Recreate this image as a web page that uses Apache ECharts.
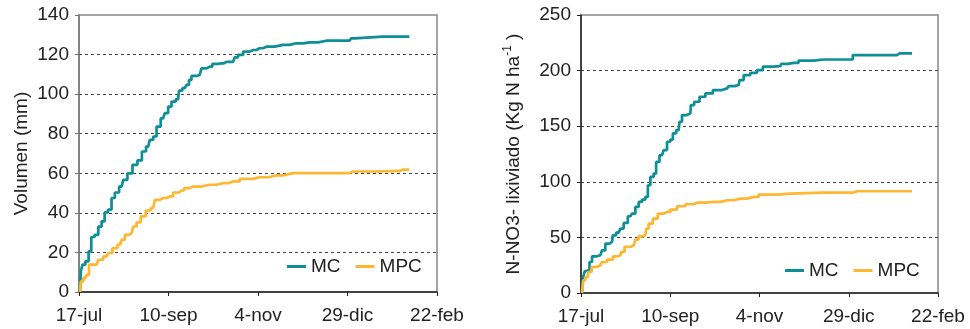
<!DOCTYPE html>
<html>
<head>
    <meta charset="utf-8">
    <title>Volumen y N-NO3 lixiviado</title>
    <script src="https://cdn.jsdelivr.net/npm/echarts@6/dist/echarts.min.js"></script>
    <style>
        html, body { margin: 0; padding: 0; background: #fff; }
        #chart { width: 970px; height: 329px; }
    </style>
</head>
<body>
    <div id="chart"></div>
    <script>
        // eje x: dias desde el 17-jul
        var xLabels = ['17-jul', '10-sep', '4-nov', '29-dic', '22-feb'];

        // volumen acumulado (mm) [dia, valor]
        var volMC = [[0.6,0],[1.6,10.4],[2.7,13.8],[5.1,15.5],[6.7,20.5],[8.4,27.8],[10.8,28.9],[12.9,33],
            [14.9,35.7],[16.6,40.2],[19,41.6],[21,47.5],[23.1,50.3],[26.2,53.3],[28.2,56.7],[31.3,60],
            [34.4,64.3],[37.4,66.5],[39.9,71],[42.5,73.5],[44.6,76.9],[46.6,78.6],[48.7,83.6],[51.7,87.8],
            [53.8,90.4],[55.8,93.7],[57.9,96.2],[60.9,97.4],[62,101.8],[65,103],[67.1,104.7],[68.1,107.2],
            [70.1,109.2],[74.2,109.7],[76.3,113],[80.4,113.9],[83.4,115.3],[87.5,115.6],[90.6,116.3],
            [94.7,116.3],[96.7,118.6],[98.8,119.8],[102.9,121.5],[107,122.3],[111,123.2],[115.1,124],
            [125.4,124.9],[133.5,125.7],[141.7,126.2],[152,127],[166.2,127],[168.3,128.2],[170.3,129.1],[203,129.1]];
        var volMPC = [[0.6,0],[1.6,5.4],[3.7,7.1],[5.1,8.7],[7.2,13.8],[10.8,13.8],[12.9,16.3],[17,18],
            [19,19.7],[22.1,22.2],[25.2,23.9],[27.2,26.4],[29.2,28.9],[32.3,29.8],[34.4,33.1],[36.4,35.2],
            [39.5,38.2],[42.5,41.2],[45.6,42.4],[47.7,46.6],[51.7,47.5],[55.8,48.3],[59.9,50.3],[63,51.3],
            [66.1,52.5],[70.1,53.3],[80.4,54.2],[88.6,55],[94.7,55.9],[102.9,57.2],[111,58],[121.3,58.9],
            [129.5,59.7],[131.5,60.1],[166.2,60.1],[168.3,60.9],[196.9,61.2],[199,61.8],[203,61.8]];

        // N-NO3 lixiviado acumulado (kg N/ha) [dia, valor]
        var nMC = [[0.6,0],[2.1,14.4],[2.7,19.8],[4.7,21],[5.8,27.9],[7.8,33],[11.9,33.9],[14,38.4],
            [16,44.4],[19.1,45.9],[20.1,51.9],[23.2,54.3],[25.3,57.9],[27.3,63],[30.4,69],[32.5,71.4],
            [34.5,77.4],[36.6,81.9],[38.6,84],[40.7,86.4],[41.7,96.9],[43.8,104.4],[45.8,107.4],[46.8,117.9],
            [49.9,123.9],[52,128.5],[54,136],[56.1,138],[57.1,143.5],[60.2,146.5],[61.2,154],[63.3,160],
            [67.4,161.5],[68,169],[71.5,172],[74.6,176.5],[78.7,179.5],[83.8,182.5],[90,184],[92,186],
            [97.2,187],[98.2,191.5],[102.3,196],[106.4,198],[110.5,200.5],[113.6,203.5],[122.8,204],
            [123.9,206],[131,207],[137.2,209],[149.5,210],[166,210],[169,214],[194.7,214],[196.4,215.5],[204,215.5]];
        var nMPC = [[0.6,0],[2.1,11.4],[3.3,14.4],[5.3,18.9],[7.8,23.4],[11.9,24.9],[14,27.9],[18.1,30],
            [21.2,33],[24.2,33.9],[25.3,36.9],[28.3,41.4],[32.5,42.9],[34.5,48],[36.6,51],[39.6,51.9],
            [40.7,57.9],[42.7,62.4],[45.8,66.9],[48.9,71.4],[53,72.9],[57.1,75],[61.2,78],[67.4,79.8],
            [71.5,81.3],[81.8,81.9],[90,83.4],[98.2,84.9],[106.4,86.4],[112.6,88.5],[129,89.4],[130,90.3],
            [168,90.3],[170,91.5],[204,91.5]];

        var colMC = '#0e8f97';
        var colMPC = '#fdb730';
        var font = 'Liberation Sans, Arial, sans-serif';

        function xAxisCfg(idx) {
            return {
                type: 'value', gridIndex: idx, min: 0, max: 220, interval: 55,
                axisLine: { lineStyle: { color: '#222', width: 1.5 } },
                axisTick: { length: 4, lineStyle: { color: '#222' } },
                axisLabel: {
                    margin: 14, color: '#222', fontSize: 19, fontFamily: font,
                    formatter: function (v) { return xLabels[Math.round(v / 55)]; }
                },
                splitLine: { show: false }
            };
        }

        function yAxisCfg(idx, max, step, name, gap, lineCol) {
            return {
                type: 'value', gridIndex: idx, min: 0, max: max, interval: step,
                name: name, nameLocation: 'middle', nameGap: gap,
                nameTextStyle: {
                    color: '#222', fontSize: 19, fontFamily: font,
                    rich: {
                        a: { color: '#222', fontSize: 19, fontFamily: font },
                        s: { color: '#222', fontSize: 12, fontFamily: font, verticalAlign: 'bottom', padding: [0, 0, 12, 0] }
                    }
                },
                axisLine: { show: true, lineStyle: { color: lineCol, width: 1.5 } },
                axisTick: { show: true, length: 4, lineStyle: { color: lineCol } },
                axisLabel: { margin: 10, color: '#222', fontSize: 19, fontFamily: font },
                splitLine: {
                    show: true, showMinLine: false, showMaxLine: false,
                    lineStyle: { color: '#444', type: [3, 3], width: 1 }
                }
            };
        }

        function lineSeries(name, data, idx, color) {
            return {
                name: name, type: 'line', data: data, xAxisIndex: idx, yAxisIndex: idx,
                showSymbol: false, step: 'middle', color: color,
                lineStyle: { color: color, width: 2.7 }
            };
        }

        var myChart = echarts.init(document.getElementById('chart'), null, { renderer: 'canvas' });
        var option = {
            animation: false,
            backgroundColor: '#fff',
            grid: [
                { left: 79, top: 15, width: 358, height: 277, show: true, borderColor: '#888', borderWidth: 1.5 },
                { left: 581, top: 15, width: 357, height: 278, show: true, borderColor: '#888', borderWidth: 1.5 }
            ],
            legend: [
                {
                    data: ['MC', 'MPC'], left: 287, top: 257, padding: 0, itemGap: 15,
                    itemWidth: 19, itemHeight: 3, icon: 'rect',
                    textStyle: { color: '#222', fontSize: 19, fontFamily: font }
                },
                {
                    data: ['MC', 'MPC'], left: 785, top: 261, padding: 0, itemGap: 15,
                    itemWidth: 19, itemHeight: 3, icon: 'rect',
                    textStyle: { color: '#222', fontSize: 19, fontFamily: font }
                }
            ],
            xAxis: [xAxisCfg(0), xAxisCfg(1)],
            yAxis: [
                yAxisCfg(0, 140, 20, 'Volumen (mm)', 48, '#777'),
                yAxisCfg(1, 250, 50, '{a|N-NO3- lixiviado (Kg N ha}{s|-1}{a| )}', 55, '#222')
            ],
            series: [
                lineSeries('MC', volMC, 0, colMC),
                lineSeries('MPC', volMPC, 0, colMPC),
                lineSeries('MC', nMC, 1, colMC),
                lineSeries('MPC', nMPC, 1, colMPC)
            ]
        };
        myChart.setOption(option);
    </script>
</body>
</html>
